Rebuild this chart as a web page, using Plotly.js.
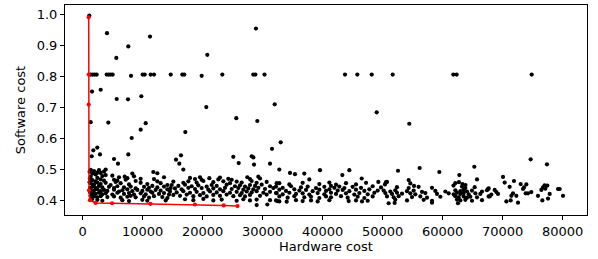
<!DOCTYPE html>
<html>
<head>
<meta charset="utf-8">
<script src="https://cdn.plot.ly/plotly-3.0.1.min.js"></script>
<style>html,body{margin:0;padding:0;background:#fff;}#chart{width:598px;height:259px;}</style>
</head>
<body>
<div id="chart"></div>
<script>
// Sparse / upper points [hardware cost, software cost]
const sparsePts = [
[1100,0.997],[4050,0.940],[11220,0.929],[7600,0.897],[5600,0.860],[20770,0.870],[28880,0.955],
[1330,0.806],[1670,0.806],[2000,0.806],[2330,0.806],[4000,0.806],[4330,0.806],[4670,0.806],[5000,0.806],
[8050,0.802],[10000,0.806],[10330,0.806],[11330,0.806],[11880,0.806],[14670,0.806],[16600,0.806],[16930,0.806],
[19830,0.802],[23270,0.806],[28430,0.806],[28770,0.806],[30300,0.806],[43720,0.806],[45770,0.806],[48170,0.806],
[51670,0.806],[61770,0.806],[62330,0.806],[74830,0.806],
[20600,0.701],[32000,0.710],[25600,0.665],[29100,0.656],[49000,0.684],[54430,0.647],[1550,0.751],[3000,0.757],
[5670,0.727],[7550,0.726],[9770,0.736],[1330,0.652],[4270,0.651],[10500,0.649],[9670,0.628],[8170,0.601],[17100,0.620],
[2430,0.570],[1770,0.561],[2880,0.548],[1500,0.542],[7600,0.548],[5220,0.533],[5880,0.518],[15550,0.531],[16380,0.545],
[16100,0.518],[16770,0.499],[25100,0.540],[26000,0.520],[28170,0.542],[28440,0.538],[28550,0.515],[31220,0.518],
[31550,0.566],[33000,0.587],[32770,0.499],[34550,0.488],[35380,0.484],[36930,0.486],[39550,0.497],[43270,0.481],
[44440,0.497],[46500,0.470],[49270,0.459],[50380,0.451],[37770,0.467],[50550,0.458]
];
// Dense band, x 1000-15000
const bandA = [
[1330,0.498],[1880,0.494],[2440,0.489],[2720,0.497],[3550,0.492],[3830,0.499],
[1610,0.486],[2160,0.483],[2990,0.488],[3830,0.481],[4940,0.479],[7000,0.476],[8270,0.486],[11770,0.491],[12440,0.487],
[1330,0.476],[2440,0.472],[3270,0.478],[5220,0.466],[6050,0.474],[7440,0.471],[8550,0.477],[9660,0.469],[13550,0.474],
[1610,0.465],[2160,0.461],[2990,0.467],[3550,0.463],[5490,0.459],[5770,0.463],[7160,0.466],[8830,0.462],[11880,0.468],[12440,0.461],
[1330,0.455],[1880,0.451],[2440,0.457],[2990,0.452],[3830,0.456],[4660,0.449],[6330,0.455],[7720,0.451],[9660,0.456],[10770,0.452],[12990,0.455],[14110,0.449],
[1610,0.444],[2160,0.440],[2720,0.446],[3270,0.441],[4380,0.443],[5220,0.439],[5770,0.445],[6880,0.441],[8000,0.444],[8830,0.438],[10220,0.443],[11050,0.440],[11610,0.446],[12440,0.441],[13550,0.444],[14660,0.439],
[1330,0.434],[1880,0.431],[2440,0.435],[2990,0.429],[3550,0.433],[4110,0.430],[5220,0.434],[6050,0.428],[6610,0.432],[7440,0.435],[8270,0.429],[9110,0.433],[9940,0.430],[10770,0.434],[11330,0.428],[12160,0.433],[12990,0.431],[14110,0.435],
[1610,0.423],[2160,0.420],[2720,0.424],[3270,0.419],[3830,0.422],[4940,0.418],[5770,0.424],[6880,0.420],[7720,0.423],[8550,0.418],[9660,0.422],[10500,0.419],[11610,0.424],[12720,0.420],[13550,0.423],[14380,0.418],
[1880,0.412],[2440,0.409],[2990,0.413],[4110,0.410],[5220,0.412],[6330,0.408],[7440,0.411],[8000,0.414],[8830,0.409],[10220,0.412],[11050,0.408],[11880,0.413],[13270,0.410],[14110,0.407],
[2440,0.401],[3270,0.398],[6610,0.400],[7720,0.397],[9940,0.401],[10770,0.398],[13830,0.399],
[1150,0.492],[1200,0.470],[1150,0.458],[1250,0.440],[1200,0.426],[1300,0.414],[1450,0.405],[1550,0.403]
];
// Dense band, x 15000-33000
const bandB = [
[17880,0.472],[18720,0.468],[19550,0.474],[19830,0.466],[21110,0.471],[22610,0.467],[22880,0.473],[24270,0.469],[24830,0.466],[27440,0.474],[27880,0.468],[29270,0.476],[29550,0.470],
[15110,0.460],[16770,0.456],[17610,0.461],[18990,0.457],[20110,0.462],[21770,0.458],[23440,0.461],[24550,0.455],[25660,0.460],[26500,0.457],[28160,0.462],[28990,0.456],[30660,0.459],[32330,0.455],
[14830,0.449],[15940,0.446],[17050,0.450],[18160,0.445],[19270,0.448],[20660,0.444],[21490,0.449],[22330,0.446],[23990,0.450],[25380,0.445],[26220,0.448],[27050,0.444],[27880,0.449],[28720,0.446],[29830,0.450],[31220,0.445],
[15380,0.438],[16490,0.435],[17610,0.440],[18720,0.436],[19830,0.439],[20940,0.434],[21770,0.438],[22880,0.435],[23720,0.440],[24830,0.436],[25940,0.439],[26770,0.434],[27610,0.438],[28440,0.435],[29270,0.440],[30380,0.436],[31770,0.439],
[14550,0.428],[15660,0.425],[16770,0.429],[17880,0.424],[18990,0.427],[20110,0.423],[21220,0.428],[22330,0.425],[23440,0.429],[24550,0.424],[25660,0.427],[26500,0.423],[27330,0.428],[28160,0.425],[28990,0.429],[30110,0.424],[31220,0.427],[32330,0.423],
[15110,0.417],[16220,0.414],[17330,0.418],[18440,0.413],[19550,0.416],[20660,0.412],[21770,0.417],[22880,0.414],[23990,0.418],[25110,0.413],[26220,0.416],[27050,0.412],[27880,0.417],[29550,0.414],[30660,0.418],
[17050,0.403],[18440,0.400],[20110,0.404],[21770,0.399],[23160,0.402],[25660,0.398],[26770,0.403],[27880,0.399],[28990,0.402],[31220,0.400],
[29000,0.384],[30770,0.386],[32440,0.397],[34000,0.395]
];
// Dense band, x 32000-50000
const bandC = [
[32770,0.455],[34440,0.451],[36660,0.456],[39440,0.452],[41110,0.457],[42220,0.450],[43880,0.455],[45550,0.451],[47220,0.456],
[32220,0.444],[33330,0.440],[34720,0.445],[36380,0.441],[37500,0.444],[38880,0.439],[40270,0.443],[41380,0.446],[41940,0.440],[42770,0.444],[43610,0.439],[44990,0.443],[46380,0.440],[48330,0.445],[49720,0.441],
[32770,0.434],[33880,0.430],[35270,0.435],[36110,0.431],[37220,0.433],[38330,0.429],[39440,0.434],[40550,0.430],[41110,0.435],[42500,0.431],[43330,0.433],[44440,0.429],[45550,0.434],[46940,0.430],[47770,0.435],[49160,0.431],
[32220,0.423],[33330,0.419],[34440,0.424],[35550,0.420],[36660,0.422],[37770,0.418],[39160,0.423],[40270,0.419],[41380,0.424],[42220,0.420],[43880,0.422],[45270,0.418],[46110,0.423],[47500,0.419],[48610,0.424],
[32770,0.412],[34160,0.408],[35270,0.413],[36940,0.409],[38050,0.411],[39440,0.407],[40550,0.412],[41380,0.409],[43050,0.413],[44160,0.408],[45830,0.411],[46940,0.407],[48330,0.412],
[32220,0.399],[32770,0.396],[35550,0.400],[36660,0.397],[38050,0.399],[39160,0.396],[41110,0.400],[44330,0.397],[45550,0.399],[46550,0.396],[47500,0.398]
];
// Dense band, x 50000-68000
const bandD = [
[52380,0.442],[54330,0.439],[55990,0.443],[58220,0.440],[63220,0.444],[63770,0.439],[65330,0.442],[67660,0.438],
[50160,0.431],[51270,0.428],[52100,0.432],[54050,0.429],[55160,0.431],[56550,0.427],[58770,0.430],[60440,0.428],[62110,0.432],[62940,0.429],[63500,0.433],[64050,0.428],[64880,0.431],[66550,0.428],[67380,0.432],
[50440,0.423],[51550,0.420],[52380,0.424],[53220,0.421],[54610,0.422],[55440,0.419],[57110,0.423],[59050,0.420],[61000,0.422],[61830,0.419],[62380,0.424],[62940,0.420],[63500,0.423],[64330,0.419],[65440,0.422],[66270,0.420],
[50720,0.412],[51830,0.409],[52660,0.413],[54880,0.410],[56270,0.412],[57380,0.408],[59610,0.411],[62110,0.413],[62660,0.409],[63500,0.412],[64050,0.408],[64610,0.411],[65720,0.409],[67660,0.412],
[52100,0.402],[54050,0.399],[56830,0.401],[58220,0.398],[62380,0.402],[62940,0.399],[63770,0.401],[64880,0.398],[66550,0.400],
[50990,0.390],[51990,0.391],[58220,0.392],[62550,0.390],
[50720,0.459],[52550,0.495],[56160,0.504],[59440,0.491],[62770,0.481],[65270,0.508],[65720,0.467],[54330,0.465],[54600,0.454],[55220,0.446],
[62100,0.455],[62700,0.458],[63300,0.452],[63800,0.449],[61800,0.447]
];
// Dense band, x 67000-80000
const bandE = [
[74660,0.532],[77380,0.516],[70050,0.475],[70330,0.457],[71880,0.462],[71160,0.443],[73000,0.452],[73940,0.451],[73550,0.441],[73380,0.436],
[76990,0.448],[77440,0.447],[76720,0.441],[77100,0.437],[76440,0.433],[79220,0.436],[79500,0.436],[67550,0.436],[68660,0.433],[68940,0.426],
[69220,0.420],[68100,0.418],[67830,0.412],[71720,0.422],[71440,0.414],[72270,0.414],[72550,0.392],[70610,0.396],[71330,0.399],[73830,0.422],
[74220,0.422],[74770,0.426],[75880,0.414],[76610,0.399],[77550,0.405],[77830,0.420],[80050,0.414]
];
// Pareto front (red)
const frontX = [1000,1000,1000,1050,1200,2150,4900,11300,18700,23500,25800];
const frontY = [0.991,0.806,0.709,0.432,0.400,0.391,0.390,0.388,0.386,0.383,0.381];
const xTicks = [0,10000,20000,30000,40000,50000,60000,70000,80000];
const yTicks = [0.4,0.5,0.6,0.7,0.8,0.9,1.0];

const allPts = sparsePts.concat(bandA, bandB, bandC, bandD, bandE);
const font = {family:'DejaVu Sans', size:13, color:'#000'};

const traces = [
  {x: allPts.map(p=>p[0]), y: allPts.map(p=>p[1]), type:'scatter', mode:'markers',
   marker:{color:'#000', size:4.2}, hoverinfo:'skip', showlegend:false},
  {x: frontX, y: frontY, type:'scatter', mode:'lines+markers',
   line:{color:'#ff0000', width:1.5}, marker:{color:'#ff0000', size:4.2}, showlegend:false}
];

const axisBase = {showgrid:false, zeroline:false, showline:true, mirror:true, linecolor:'#000', linewidth:1,
  ticks:'outside', ticklen:4, tickwidth:1, tickcolor:'#000', tickfont:font};

const layout = {
  width:598, height:259,
  margin:{l:65, r:11, t:5, b:44},
  paper_bgcolor:'#fff', plot_bgcolor:'#fff',
  font: font,
  showlegend:false,
  xaxis: Object.assign({}, axisBase, {range:[-2950,84050], tickvals:xTicks, ticktext:xTicks.map(String),
    title:{text:'Hardware cost', font:font, standoff:4}}),
  yaxis: Object.assign({}, axisBase, {range:[0.352,1.031], tickvals:yTicks, ticktext:yTicks.map(v=>v.toFixed(1)),
    title:{text:'Software cost', font:font, standoff:8}})
};

Plotly.newPlot('chart', traces, layout, {staticPlot:true, displayModeBar:false});
</script>
</body>
</html>
